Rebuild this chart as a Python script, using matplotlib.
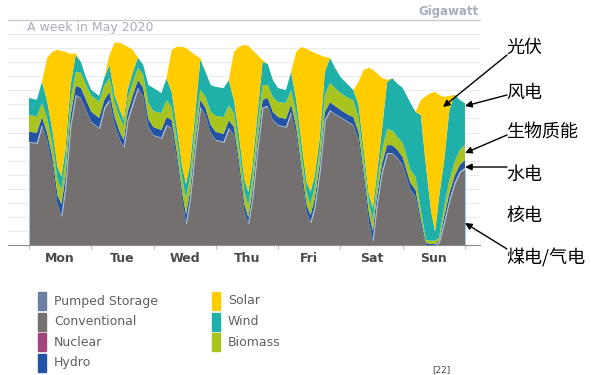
import matplotlib
matplotlib.use("Agg")
import matplotlib.pyplot as plt
from matplotlib.patches import Rectangle

# sample hours inside each day, Mon..Sun, plus the closing point at 168 h
day_hours = [0, 3, 5, 7, 9, 11, 12.5, 14, 16, 18, 20, 22]
days = ["Mon", "Tue", "Wed", "Thu", "Fri", "Sat", "Sun"]
hours = [d * 24 + h for d in range(7) for h in day_hours] + [168]

# Gigawatt
conventional = [36.7, 36.3, 42.7, 37.0, 28.5, 14.2, 10.5, 20.5, 42.5, 53.4, 52.3, 48.0,
                43.8, 41.6, 48.8, 51.6, 42.7, 37.4, 34.9, 44.5, 50.5, 55.9, 52.7, 42.0,
                39.1, 38.1, 42.7, 41.6, 30.2, 16.0, 7.8, 16.0, 33.8, 49.1, 46.3, 39.9,
                37.4, 36.7, 41.6, 39.1, 26.7, 11.7, 7.8, 16.0, 33.8, 48.8, 49.5, 44.5,
                42.7, 42.0, 47.3, 39.1, 24.9, 11.7, 8.2, 13.2, 26.0, 44.5, 48.0, 46.6,
                45.6, 43.8, 42.7, 37.4, 23.1, 8.2, 1.8, 14.2, 26.0, 32.7, 32.7, 31.0,
                28.5, 19.6, 17.1, 7.1, 0.0, 0.0, 0.0, 1.0, 8.2, 16.0, 22.1, 26.0,
                27.4]
hydro = [3.6, 3.6, 2.8, 2.8, 2.8, 3.6, 4.0, 3.6, 3.6, 3.2, 3.6, 3.6,
         3.6, 3.6, 2.8, 2.8, 2.8, 2.8, 2.5, 2.8, 2.8, 2.8, 3.2, 2.8,
         2.8, 2.8, 2.8, 2.8, 2.8, 2.8, 3.2, 2.8, 2.8, 2.5, 2.5, 2.8,
         2.8, 2.8, 2.8, 2.8, 2.8, 2.8, 2.1, 2.8, 2.8, 2.8, 2.8, 2.8,
         2.8, 2.8, 2.8, 2.8, 2.8, 2.5, 2.5, 2.8, 2.8, 2.8, 2.8, 2.8,
         2.5, 2.5, 2.8, 2.8, 2.8, 3.2, 3.2, 2.8, 2.8, 2.8, 2.8, 2.8,
         2.8, 2.5, 2.5, 2.1, 0.7, 0.4, 0.4, 0.5, 2.1, 2.5, 2.5, 2.5,
         2.8]
biomass = [6.0, 5.7, 5.0, 5.3, 5.0, 5.3, 5.3, 5.3, 5.3, 5.0, 5.3, 5.3,
           5.7, 5.7, 5.0, 5.0, 5.0, 5.0, 5.0, 5.0, 4.6, 4.3, 4.6, 5.7,
           5.7, 6.0, 6.0, 4.6, 4.3, 5.0, 5.7, 5.0, 5.0, 3.6, 3.9, 4.6,
           5.7, 6.0, 5.3, 5.0, 4.6, 4.6, 4.3, 4.3, 5.0, 5.3, 4.6, 5.3,
           5.3, 5.7, 5.0, 5.0, 4.6, 4.3, 3.9, 4.3, 4.6, 6.0, 6.8, 6.4,
           6.0, 6.0, 6.0, 5.0, 4.3, 3.6, 3.9, 3.9, 5.0, 5.7, 5.3, 4.6,
           5.0, 4.6, 4.6, 3.2, 1.1, 1.1, 1.1, 1.1, 3.2, 4.6, 5.0, 5.3,
           5.3]
wind = [6.0, 6.0, 7.5, 6.0, 4.6, 4.6, 4.6, 4.3, 5.3, 6.0, 3.9, 2.5,
        2.1, 2.1, 2.8, 4.6, 2.8, 2.8, 2.1, 2.8, 3.6, 3.6, 3.6, 6.4,
        8.2, 7.1, 7.8, 5.3, 4.3, 4.3, 5.0, 4.6, 4.6, 10.7, 8.9, 9.6,
        10.3, 10.3, 8.9, 4.6, 4.3, 4.3, 4.6, 4.3, 4.6, 8.2, 7.5, 6.0,
        5.0, 4.6, 6.4, 4.6, 4.3, 3.9, 4.3, 3.9, 4.3, 8.2, 8.9, 7.1,
        5.7, 4.6, 3.6, 4.6, 3.6, 2.8, 4.3, 3.6, 7.1, 16.7, 18.5, 18.9,
        19.6, 23.8, 23.1, 33.8, 26.0, 10.3, 3.2, 14.2, 16.7, 24.9, 23.8, 17.8,
        14.9]
solar = [0, 0, 0, 15.4, 27.8, 41.7, 44.6, 35.0, 11.3, 0.5, 0, 0,
         0, 0, 0, 3.6, 18.6, 23.9, 26.7, 15.4, 7.9, 0, 0, 0,
         0, 0, 0, 15.1, 28.9, 42.3, 48.4, 40.6, 21.4, 0.6, 0, 0,
         0, 0, 0, 17.2, 32.1, 47.8, 52.0, 42.0, 21.4, 0.7, 0, 0,
         0, 0, 0, 17.2, 33.8, 47.3, 50.1, 44.1, 29.9, 5.4, 0, 0,
         0, 0, 0, 8.2, 28.5, 45.2, 49.1, 36.7, 18.5, 0.8, 0, 0,
         0, 0, 0, 5.4, 25.2, 42.3, 49.7, 36.6, 22.5, 5.0, 0, 0,
         0]

legend_col1 = ["Pumped Storage", "Conventional", "Nuclear", "Hydro"]
legend_col2 = ["Solar", "Wind", "Biomass"]
colors = {"Pumped Storage": "#6c7fa2", "Conventional": "#757070",
          "Nuclear": "#a0467f", "Hydro": "#2453a6", "Solar": "#ffcc00",
          "Wind": "#1fb0aa", "Biomass": "#a9c41f"}

notes = ["光伏", "风电", "生物质能", "水电", "核电", "煤电/气电"]

W, H = 591, 375
def fx(x):
    return x / W
def fy(y):
    return 1 - y / H

fig = plt.figure(figsize=(W / 100, H / 100), dpi=100)
ax = fig.add_axes([fx(8), fy(245), fx(480) - fx(8), fy(20) - fy(245)])

polys = ax.stackplot(hours, conventional, hydro, biomass, wind, solar,
                     colors=[colors["Conventional"], colors["Hydro"], colors["Biomass"],
                             colors["Wind"], colors["Solar"]], linewidth=0)
polys[0].set_edgecolor("#a9c6dc")
polys[0].set_linewidth(0.7)

ax.set_xlim(-8.1, 173.8)
ax.set_ylim(0, 80)
ax.set_yticks(range(5, 80, 5))
ax.yaxis.grid(True, color="#ececec", lw=0.8)
ax.set_axisbelow(True)
ax.tick_params(axis="y", length=0, labelleft=False)
for s in ["left", "right", "top"]:
    ax.spines[s].set_visible(False)
ax.spines["bottom"].set_color("#8a8a8a")
ax.axhline(80, color="#cccccc", lw=1, clip_on=False)

ax.set_xticks(range(0, 169, 24))
ax.set_xticklabels([])
ax.tick_params(axis="x", length=3, color="#bbbbbb", direction="out")
ax.set_xticks([d * 24 + 12 for d in range(7)], minor=True)
ax.set_xticklabels(days, minor=True, fontsize=9, fontweight="bold", color="#4a4a4a")
ax.tick_params(axis="x", which="minor", length=0, pad=5)

fig.text(fx(27), fy(28), "A week in May 2020", fontsize=9, color="#a7aebb", va="center")
fig.text(fx(479), fy(11), "Gigawatt", fontsize=8.5, color="#a7aebb", va="center",
         ha="right", fontweight="bold")

# legend drawn at the bottom, two columns
for i, name in enumerate(legend_col1):
    y = 301 + i * 20.5
    fig.patches.append(Rectangle((fx(38), fy(y + 9)), 8 / W, 18 / H,
                                 transform=fig.transFigure, color=colors[name]))
    fig.text(fx(54), fy(y), name, fontsize=9, color="#5f5f5f", va="center")
for i, name in enumerate(legend_col2):
    y = 301 + i * 20.5
    fig.patches.append(Rectangle((fx(212), fy(y + 9)), 8 / W, 18 / H,
                                 transform=fig.transFigure, color=colors[name]))
    fig.text(fx(228), fy(y), name, fontsize=9, color="#5f5f5f", va="center")

fig.text(fx(432), fy(365), "[22]", fontsize=6.5, color="#444444", va="top")

# Chinese notes with arrows
cjk = ["Noto Sans CJK SC", "DejaVu Sans"]
note_y = [48, 93, 133, 175, 216, 258]
arrows = [((507, 55), (443, 107)), ((507, 95), (465, 106)), ((507, 135), (465, 153)),
          ((507, 167), (465, 167)), None, ((507, 249), (465, 223))]
for txt, y, arr in zip(notes, note_y, arrows):
    fig.text(fx(506), fy(y), txt, fontsize=13, family=cjk, va="center", color="black")
    if arr:
        (x0, y0), (x1, y1) = arr
        ax.annotate("", xy=(fx(x1), fy(y1)), xycoords="figure fraction",
                    xytext=(fx(x0), fy(y0)), textcoords="figure fraction",
                    arrowprops=dict(arrowstyle="-|>", color="black", lw=1,
                                    mutation_scale=10, shrinkA=0, shrinkB=0),
                    annotation_clip=False)

fig.savefig("out.png", dpi=100)
